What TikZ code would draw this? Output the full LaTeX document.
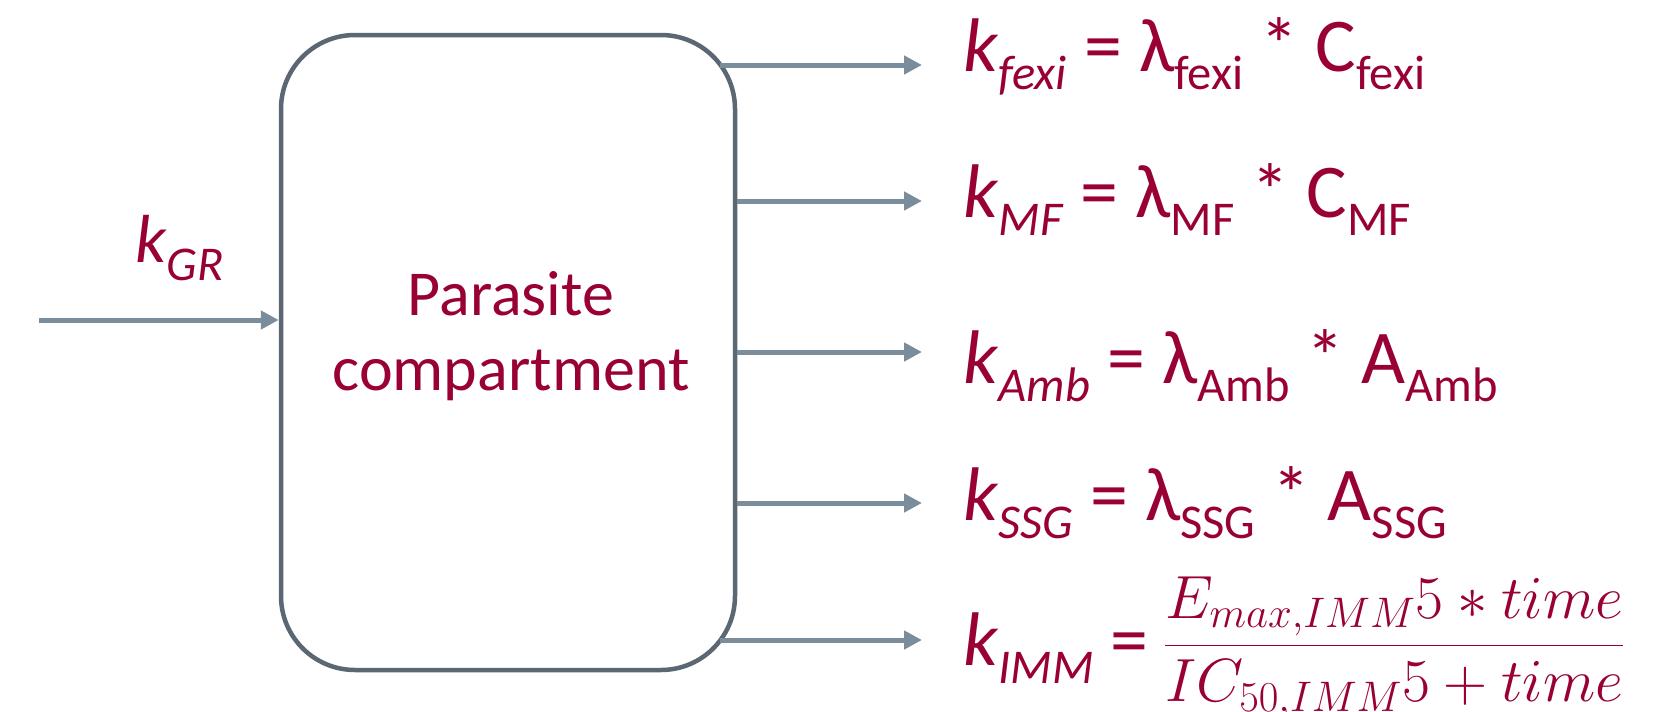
\RequirePackage{fix-cm}
\documentclass[tikz,border=0pt]{standalone}
\usepackage[no-math]{fontspec}
\setmainfont{Carlito}
\usetikzlibrary{arrows.meta}
\definecolor{txt}{HTML}{990036}
\definecolor{boxc}{HTML}{5B6772}
\definecolor{arr}{HTML}{7A8D9D}
\newcommand{\sbs}[1]{\raisebox{-18pt}{\fontsize{48.5}{48}\selectfont #1}}
\tikzset{
  flow/.style={draw=arr, line width=5pt, -{Triangle[length=18pt,width=18pt]}},
  eq/.style={anchor=base west, inner sep=0pt, text=txt, font=\fontsize{76}{80}\selectfont},
  compbox/.style={draw=boxc, line width=4.5pt, rounded corners=74pt, minimum width=454pt, minimum height=635pt, inner sep=0pt}
}
\begin{document}
\begin{tikzpicture}[x=1pt,y=-1pt]
\useasboundingbox (0,0) rectangle (1663,712);
\node (box) [compbox] at (508,352.5) {};
\node (lab) [anchor=base, align=center, text=txt, inner sep=0pt, font=\fontsize{64}{75}\selectfont] at (511,390) {Parasite\\compartment};
\node (kgr) [anchor=base west, inner sep=0pt, text=txt, font=\fontsize{68}{70}\selectfont] at (135,262) {\textit{k}\sbs{\textit{GR}}};
\coordinate (in) at (39,320);
\draw[flow] (in) -- (box.west |- in);
% outputs
\coordinate (s1) at (720,65);
\coordinate (t1) at (922,65);
\coordinate (t2) at (922,201);
\coordinate (t3) at (922,352);
\coordinate (t4) at (922,503);
\coordinate (s5) at (720,640);
\coordinate (t5) at (922,640);
\draw[flow] (s1) -- (t1);
\draw[flow] (box.east |- t2) -- (t2);
\draw[flow] (box.east |- t3) -- (t3);
\draw[flow] (box.east |- t4) -- (t4);
\draw[flow] (s5) -- (t5);
\node (e1) [eq] at (963,71) {\textit{k}\sbs{\textit{fexi}} = λ\sbs{fexi} * C\sbs{fexi}};
\node (e2) [eq] at (963,217) {\textit{k}\sbs{\textit{MF}} = λ\sbs{MF} * C\sbs{MF}};
\node (e3) [eq] at (963,383) {\textit{k}\sbs{\textit{Amb}} = λ\sbs{Amb} * A\sbs{Amb}};
\node (e4) [eq] at (963,520) {\textit{k}\sbs{\textit{SSG}} = λ\sbs{SSG} * A\sbs{SSG}};
\node (e5) [eq] at (963,665) {\textit{k}\sbs{\textit{IMM}}};
\node (eq5) [eq] at (1110,665) {=};
\node (frac) [eq] at (1164,665) {\raisebox{5pt}{\fontsize{61}{64}\selectfont$\displaystyle\frac{E_{max,IMM}5*time}{IC_{50,IMM}5+time}$}};
\end{tikzpicture}
\end{document}
